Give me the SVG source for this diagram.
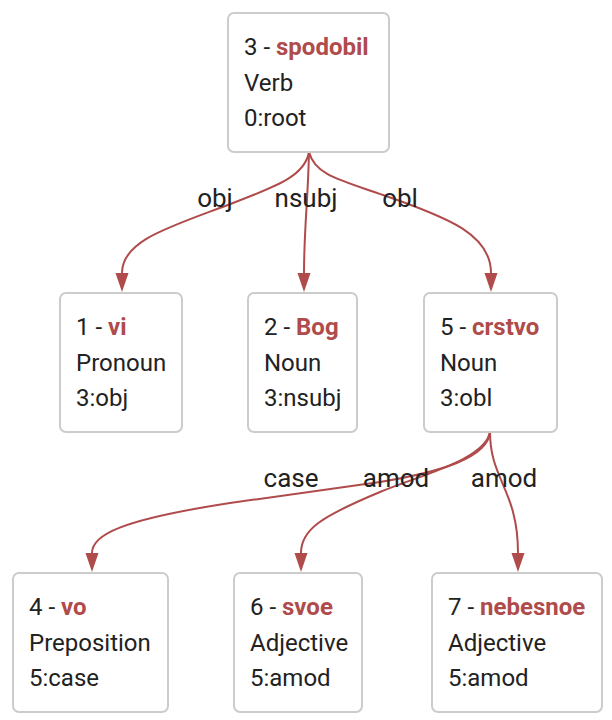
<svg xmlns="http://www.w3.org/2000/svg" width="612" height="720" viewBox="0 0 612 720">
<style>
.box{fill:#fff;stroke:#cccccc;stroke-width:2}
text{font-family:Roboto,"Liberation Sans",sans-serif;font-size:24px;fill:#222}
.w{font-weight:bold;fill:#b04b4b}
.lbl{font-size:26px;text-anchor:middle}
.e{fill:none;stroke:#b04b4b;stroke-width:2}
</style>
<defs>
<marker id="ah" markerUnits="userSpaceOnUse" markerWidth="20" markerHeight="14" refX="0" refY="6.5" orient="auto">
<path d="M0,0 L19,6.5 L0,13 Z" fill="#b04b4b"/>
</marker>
</defs>
<g id="connectors">
<path class="e" d="M309,152 C305,175 280,185 233,203 C170,227 122,240 122,273" marker-end="url(#ah)"/>
<path class="e" d="M309,152 C308,200 304,230 304,273" marker-end="url(#ah)"/>
<path class="e" d="M309,152 C315,175 340,180 383,195 C450,218 491,235 491,273" marker-end="url(#ah)"/>
<path class="e" d="M490,432 C488,458 440,472 380,482 L230,503 C120,520 92,535 92,553" marker-end="url(#ah)"/>
<path class="e" d="M490,432 C485,460 420,475 380,492 C320,517 301,530 301,553" marker-end="url(#ah)"/>
<path class="e" d="M490,432 C490,480 518,490 518,553" marker-end="url(#ah)"/>
<text class="lbl" x="215" y="207">obj</text>
<text class="lbl" x="306" y="207">nsubj</text>
<text class="lbl" x="400" y="207">obl</text>
<text class="lbl" x="291" y="487">case</text>
<text class="lbl" x="396" y="487">amod</text>
<text class="lbl" x="504" y="487">amod</text>
</g>
<g id="n3"><rect class="box" x="228" y="13" width="161" height="139" rx="6"/>
<text x="244" y="55">3 - <tspan class="w">spodobil</tspan></text><text x="244" y="91">Verb</text><text x="244" y="126">0:root</text></g>
<g id="n1"><rect class="box" x="60" y="293" width="122" height="139" rx="6"/>
<text x="76" y="335">1 - <tspan class="w">vi</tspan></text><text x="76" y="371">Pronoun</text><text x="76" y="406">3:obj</text></g>
<g id="n2"><rect class="box" x="248" y="293" width="109" height="139" rx="6"/>
<text x="264" y="335">2 - <tspan class="w">Bog</tspan></text><text x="264" y="371">Noun</text><text x="264" y="406">3:nsubj</text></g>
<g id="n5"><rect class="box" x="424" y="293" width="133" height="139" rx="6"/>
<text x="440" y="335">5 - <tspan class="w">crstvo</tspan></text><text x="440" y="371">Noun</text><text x="440" y="406">3:obl</text></g>
<g id="n4"><rect class="box" x="13" y="573" width="155" height="139" rx="6"/>
<text x="29" y="615">4 - <tspan class="w">vo</tspan></text><text x="29" y="651">Preposition</text><text x="29" y="686">5:case</text></g>
<g id="n6"><rect class="box" x="234" y="573" width="128" height="139" rx="6"/>
<text x="250" y="615">6 - <tspan class="w">svoe</tspan></text><text x="250" y="651">Adjective</text><text x="250" y="686">5:amod</text></g>
<g id="n7"><rect class="box" x="432" y="573" width="170" height="139" rx="6"/>
<text x="448" y="615">7 - <tspan class="w">nebesnoe</tspan></text><text x="448" y="651">Adjective</text><text x="448" y="686">5:amod</text></g>
</svg>
